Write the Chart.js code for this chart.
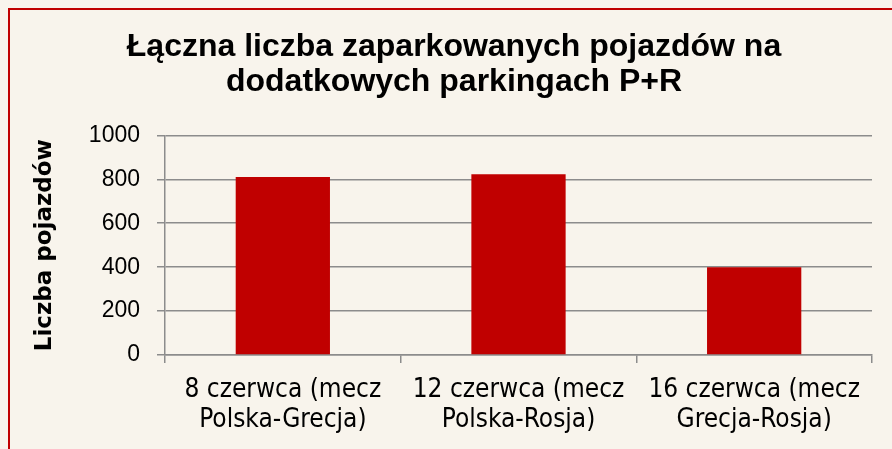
<!DOCTYPE html>
<html>
<head>
<meta charset="utf-8">
<script src="https://cdn.jsdelivr.net/npm/chart.js@4"></script>
<style>
  html, body { margin: 0; padding: 0; }
  body { background: #f8f4ec; }
  #wrap {
    position: relative;
    width: 892px;
    height: 449px;
    overflow: hidden;
    background: #f8f4ec;
  }
  #frame {
    position: absolute;
    left: 8px;
    top: 8px;
    width: 900px;
    height: 460px;
    border: 2px solid #c00000;
  }
  #chartCanva { position: absolute; left: 0; top: 0; }
</style>
</head>
<body>
<div id="wrap">
  <div id="frame"></div>
  <canvas id="chartCanva" width="892" height="449"></canvas>
</div>
<script>
var ctx = document.getElementById('chartCanva').getContext('2d');

// data
var categories = [
    ['8 czerwca (mecz', 'Polska-Grecja)'],
    ['12 czerwca (mecz', 'Polska-Rosja)'],
    ['16 czerwca (mecz', 'Grecja-Rosja)']
];
var vehicles = [810, 823, 400];
var yTicks = [0, 200, 400, 600, 800, 1000];

var chartTitle = ['Łączna liczba zaparkowanych pojazdów na', 'dodatkowych parkingach P+R'];
var yTitle = 'Liczba pojazdów';

var gridGray = '#8c8c8c';

var chartData = {
    labels: categories,
    datasets: [{
        label: yTitle,
        data: vehicles,
        backgroundColor: '#c00000',
        borderWidth: 0,
        barPercentage: 0.4,
        categoryPercentage: 1.0
    }]
};

var chartOptions = {
    responsive: false,
    animation: false,
    // left padding keeps the main title centred like the original
    layout: { padding: { left: 36, right: 20, top: 0, bottom: 0 } },
    scales: {
        x: {
            grid: {
                display: true,
                drawOnChartArea: false,
                drawTicks: true,
                tickLength: 8,
                color: gridGray,
                lineWidth: 1.5
            },
            border: { color: gridGray, width: 1.5 },
            ticks: {
                color: '#000',
                padding: 12,
                maxRotation: 0,
                autoSkip: false,
                font: { family: '"DejaVu Sans Condensed", "DejaVu Sans", sans-serif', size: 26, lineHeight: 1.15 }
            },
            afterFit: function (scale) { scale.height = 94; }
        },
        y: {
            min: 0,
            max: 1000,
            afterBuildTicks: function (scale) {
                scale.ticks = yTicks.map(function (v) { return { value: v }; });
            },
            grid: {
                color: gridGray,
                lineWidth: 1.5,
                tickLength: 8
            },
            border: { color: gridGray, width: 1.5 },
            ticks: {
                color: '#000',
                padding: 17,
                callback: function (value) { return String(value); },
                font: { family: '"Liberation Sans", Arial, sans-serif', size: 23 }
            },
            title: {
                display: true,
                text: yTitle,
                color: '#000',
                padding: { top: -5, bottom: 0 },
                font: { family: '"DejaVu Sans", sans-serif', size: 23, weight: 'bold' }
            },
            afterFit: function (scale) { scale.width = 129; }
        }
    },
    plugins: {
        legend: { display: false },
        tooltip: { enabled: false },
        title: {
            display: true,
            text: chartTitle,
            color: '#000',
            padding: { top: 29.5, bottom: 35.5 },
            font: { family: '"Liberation Sans", Arial, sans-serif', size: 32, weight: 'bold', lineHeight: 1.1 }
        }
    }
};

var barChart = new Chart(ctx, {
    type: 'bar',
    data: chartData,
    options: chartOptions
});
</script>
</body>
</html>
